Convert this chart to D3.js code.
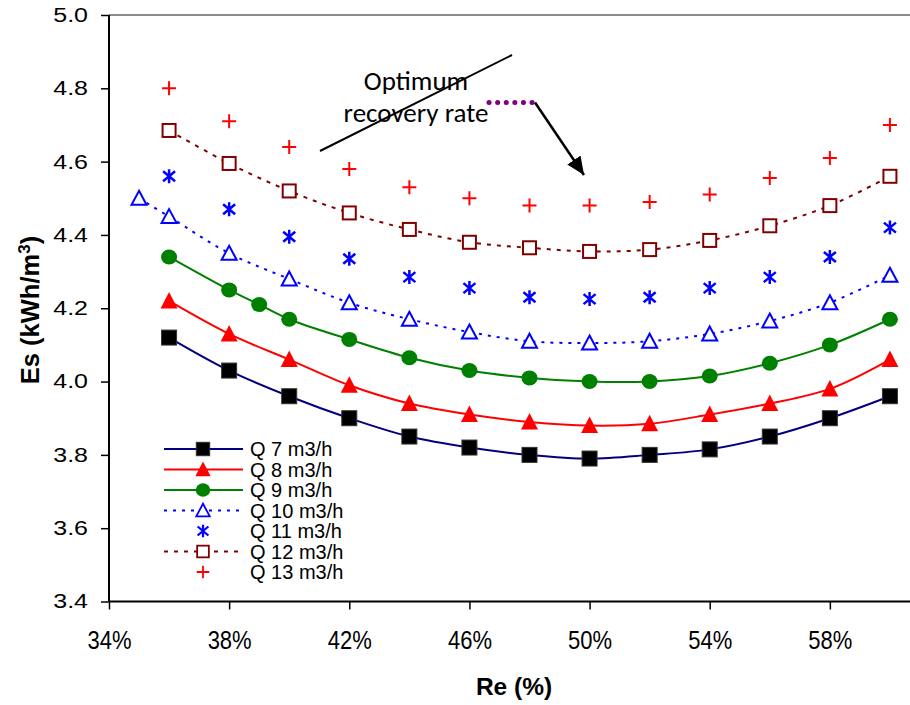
<!DOCTYPE html>
<html>
<head>
<meta charset="utf-8">
<script src="https://cdn.jsdelivr.net/npm/d3@7"></script>
<style>
  html, body { margin: 0; padding: 0; background: #fff; }
  svg { display: block; }
</style>
</head>
<body>
<svg id="chart" width="910" height="705" font-family="'Liberation Sans', Arial, sans-serif"></svg>
<script>
// Recovery rate (fraction) for each measured point
const re = [0.36, 0.38, 0.40, 0.42, 0.44, 0.46, 0.48, 0.50, 0.52, 0.54, 0.56, 0.58, 0.60];
const re9 = [0.36, 0.38, 0.39, 0.40, 0.42, 0.44, 0.46, 0.48, 0.50, 0.52, 0.54, 0.56, 0.58, 0.60];
const re10 = [0.35, 0.36, 0.38, 0.40, 0.42, 0.44, 0.46, 0.48, 0.50, 0.52, 0.54, 0.56, 0.58, 0.60];

// Specific energy Es (kWh/m3) per feed flow
const q7 = [4.12, 4.03, 3.96, 3.90, 3.85, 3.82, 3.80, 3.79, 3.80, 3.815, 3.85, 3.90, 3.96];
const q8 = [4.22, 4.13, 4.06, 3.99, 3.94, 3.91, 3.89, 3.88, 3.885, 3.91, 3.94, 3.98, 4.06];
const q9 = [4.34, 4.25, 4.21, 4.17, 4.115, 4.065, 4.03, 4.01, 4.00, 4.00, 4.015, 4.05, 4.10, 4.17];
const q10 = [4.50, 4.45, 4.35, 4.28, 4.215, 4.17, 4.135, 4.11, 4.105, 4.11, 4.13, 4.165, 4.215, 4.29];
const q11 = [4.56, 4.47, 4.395, 4.335, 4.285, 4.255, 4.23, 4.225, 4.23, 4.255, 4.285, 4.34, 4.42];
const q12 = [4.685, 4.595, 4.52, 4.46, 4.415, 4.38, 4.365, 4.355, 4.36, 4.385, 4.425, 4.48, 4.56];
const q13 = [4.80, 4.71, 4.64, 4.58, 4.53, 4.50, 4.48, 4.48, 4.49, 4.51, 4.555, 4.61, 4.70];

const seriesNames = ["Q 7 m3/h", "Q 8 m3/h", "Q 9 m3/h", "Q 10 m3/h", "Q 11 m3/h", "Q 12 m3/h", "Q 13 m3/h"];
const xTicks = [0.34, 0.38, 0.42, 0.46, 0.50, 0.54, 0.58];
const yTicks = [3.4, 3.6, 3.8, 4.0, 4.2, 4.4, 4.6, 4.8, 5.0];

const series = [
  { name: seriesNames[0], xs: re,   ys: q7,  line: "#000080", dash: null,  marker: "square",   fill: "#000", stroke: "#333" },
  { name: seriesNames[1], xs: re,   ys: q8,  line: "#ff0000", dash: null,  marker: "triangle", fill: "#ff0000", stroke: "#ff0000" },
  { name: seriesNames[2], xs: re9,  ys: q9,  line: "#008000", dash: null,  marker: "circle",   fill: "#008000", stroke: "#008000" },
  { name: seriesNames[3], xs: re10, ys: q10, line: "#0000ff", dash: "3,6", marker: "otriangle", fill: "#fff", stroke: "#0000ff" },
  { name: seriesNames[4], xs: re,   ys: q11, line: null,      dash: null,  marker: "star",     fill: "none", stroke: "#0000ff" },
  { name: seriesNames[5], xs: re,   ys: q12, line: "#800000", dash: "4,6", marker: "osquare",  fill: "#fff", stroke: "#800000" },
  { name: seriesNames[6], xs: re,   ys: q13, line: null,      dash: null,  marker: "plus",     fill: "none", stroke: "#ff0000" }
];

const svg = d3.select("#chart");
const x = d3.scaleLinear().domain([0.34, 0.62]).range([109, 950]);
const y = d3.scaleLinear().domain([3.4, 5.0]).range([601.5, 15]);

// plot frame (top edge)
svg.append("line").attr("x1", x(0.34)).attr("x2", 910).attr("y1", y(5.0)).attr("y2", y(5.0))
  .attr("stroke", "#8c8c8c").attr("stroke-width", 2);

// axes
const xAxis = d3.axisBottom(x).tickValues(xTicks).tickSize(8).tickFormat(d3.format(".0%"));
const gx = svg.append("g").attr("transform", `translate(0,${y(3.4)})`).call(xAxis);
gx.attr("font-family", null).attr("font-size", null);
gx.select(".domain").attr("stroke", "#000").attr("stroke-width", 2).attr("d", `M${x(0.34)},0H960`);
gx.selectAll(".tick line").attr("stroke", "#000").attr("stroke-width", 1.5);
gx.selectAll(".tick text").attr("font-size", 25).attr("fill", "#000")
  .attr("y", 0).attr("dy", null).attr("transform", "translate(0,47) scale(0.88,1)");

const yAxis = d3.axisLeft(y).tickValues(yTicks).tickSize(8).tickFormat(d3.format(".1f"));
const gy = svg.append("g").attr("transform", `translate(${x(0.34)},0)`).call(yAxis);
gy.attr("font-family", null).attr("font-size", null);
gy.select(".domain").attr("stroke", "#000").attr("stroke-width", 2).attr("d", `M0,${y(3.4)}V${y(5.0)}`);
gy.selectAll(".tick line").attr("stroke", "#000").attr("stroke-width", 1.5);
gy.selectAll(".tick text").attr("font-size", 20).attr("fill", "#000")
  .attr("x", 0).attr("transform", "translate(-21,0) scale(1.25,1)");

// axis titles
svg.append("text").attr("x", 514).attr("y", 695).attr("text-anchor", "middle")
  .attr("font-size", 24.5).attr("font-weight", "bold").text("Re (%)");
const yt = svg.append("text").attr("transform", "translate(39,310) rotate(-90)")
  .attr("text-anchor", "middle").attr("font-size", 25.5).attr("font-weight", "bold");
yt.append("tspan").text("Es (kWh/m");
yt.append("tspan").attr("dy", -9).attr("font-size", 17).text("3");
yt.append("tspan").attr("dy", 9).text(")");

// marker drawing
function drawMarker(g, type, fill, stroke) {
  switch (type) {
    case "square":
      g.append("rect").attr("x", -7.5).attr("y", -7.5).attr("width", 15).attr("height", 15)
        .attr("fill", fill).attr("stroke", stroke).attr("stroke-width", 1); break;
    case "triangle":
      g.append("path").attr("d", "M0,-9L8.5,7.5L-8.5,7.5Z").attr("fill", fill); break;
    case "circle":
      g.append("ellipse").attr("rx", 8).attr("ry", 7.5).attr("fill", fill); break;
    case "otriangle":
      g.append("path").attr("d", "M0,-7.5L7.5,6.5L-7.5,6.5Z").attr("fill", fill)
        .attr("stroke", stroke).attr("stroke-width", 2); break;
    case "osquare":
      g.append("rect").attr("x", -6.5).attr("y", -6.5).attr("width", 13).attr("height", 13)
        .attr("fill", fill).attr("stroke", stroke).attr("stroke-width", 2); break;
    case "star":
      g.append("path").attr("d", "M0,-7V7M-6,-5L6,5M-6,5L6,-5").attr("stroke", stroke)
        .attr("stroke-width", 2.5).attr("fill", "none"); break;
    case "plus":
      g.append("path").attr("d", "M0,-7V7M-7,0H7").attr("stroke", stroke)
        .attr("stroke-width", 2).attr("fill", "none"); break;
  }
}

const line = d3.line().x(d => x(d[0])).y(d => y(d[1])).curve(d3.curveCatmullRom.alpha(0.5));

// series lines first, then markers on top
series.forEach(s => {
  if (!s.line) return;
  const pts = s.xs.map((v, i) => [v, s.ys[i]]);
  svg.append("path").datum(pts).attr("d", line).attr("fill", "none")
    .attr("stroke", s.line).attr("stroke-width", 2)
    .attr("stroke-dasharray", s.dash);
});
series.forEach(s => {
  s.xs.forEach((v, i) => {
    const g = svg.append("g").attr("transform", `translate(${x(v)},${y(s.ys[i])})`);
    drawMarker(g, s.marker, s.fill, s.stroke);
  });
});

// legend
const leg = svg.append("g");
series.forEach((s, i) => {
  const ly = 449 + i * 20.5;
  if (s.line) {
    leg.append("line").attr("x1", 164).attr("x2", 243).attr("y1", ly).attr("y2", ly)
      .attr("stroke", s.line).attr("stroke-width", 2).attr("stroke-dasharray", s.dash);
  }
  const g = leg.append("g").attr("transform", `translate(203,${ly}) scale(0.9)`);
  drawMarker(g, s.marker, s.fill, s.stroke);
  leg.append("text").attr("x", 250).attr("y", ly).attr("dy", "0.36em")
    .attr("font-size", 20).text(s.name);
});

// annotation
const ann = svg.append("g").attr("font-family", "Carlito, Lato, 'Open Sans', sans-serif");
ann.append("text").attr("x", 416).attr("y", 90).attr("text-anchor", "middle")
  .attr("font-size", 27).text("Optimum");
ann.append("text").attr("x", 416).attr("y", 122).attr("text-anchor", "middle")
  .attr("font-size", 27).text("recovery rate");
ann.append("line").attr("x1", 320).attr("y1", 151).attr("x2", 512).attr("y2", 55)
  .attr("stroke", "#000").attr("stroke-width", 2);
ann.append("line").attr("x1", 489).attr("y1", 102.5).attr("x2", 535).attr("y2", 102.5)
  .attr("stroke", "#800080").attr("stroke-width", 5).attr("stroke-linecap", "round")
  .attr("stroke-dasharray", "0.1,8.5");
const defs = svg.append("defs");
defs.append("marker").attr("id", "arrowHead").attr("viewBox", "0 0 18 16").attr("refX", 18).attr("refY", 8)
  .attr("markerWidth", 18).attr("markerHeight", 16).attr("markerUnits", "userSpaceOnUse").attr("orient", "auto")
  .append("path").attr("d", "M0,0L18,8L0,16Z").attr("fill", "#000");
ann.append("line").attr("x1", 535).attr("y1", 102.5).attr("x2", 584).attr("y2", 175)
  .attr("stroke", "#000").attr("stroke-width", 2.5).attr("marker-end", "url(#arrowHead)");
</script>
</body>
</html>
